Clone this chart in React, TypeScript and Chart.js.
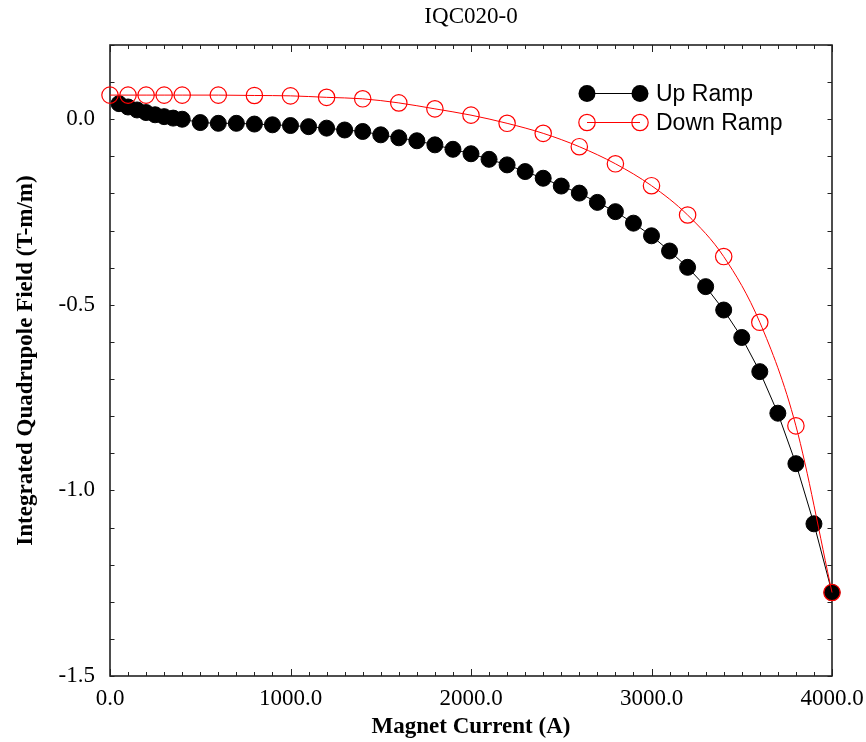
import { useEffect, useRef } from "react";
import { Chart, registerables } from "chart.js";

Chart.register(...registerables);

const chartTitle = "IQC020-0";
const xAxisTitle = "Magnet Current (A)";
const yAxisTitle = "Integrated Quadrupole Field (T-m/m)";
const xTickValues = [0, 1000, 2000, 3000, 4000];
const yTickValues = [-1.5, -1.0, -0.5, 0.0];
const xMinorStep = 100;
const yMinorStep = 0.1;
const upRampLabel = "Up Ramp";
const downRampLabel = "Down Ramp";

const upCurrent = [
  50, 100, 150, 200, 250, 300, 350, 400, 500, 600, 700, 800, 900, 1000, 1100, 1200, 1300,
  1400, 1500, 1600, 1700, 1800, 1900, 2000, 2100, 2200, 2300, 2400, 2500, 2600, 2700, 2800,
  2900, 3000, 3100, 3200, 3300, 3400, 3500, 3600, 3700, 3800, 3900, 4000,
];
const upField = [
  0.042, 0.033, 0.025, 0.018, 0.012, 0.007, 0.003, 0.0, -0.009, -0.011, -0.011, -0.013,
  -0.015, -0.017, -0.02, -0.024, -0.029, -0.033, -0.042, -0.05, -0.058, -0.069, -0.081,
  -0.093, -0.108, -0.123, -0.141, -0.159, -0.18, -0.199, -0.224, -0.249, -0.28, -0.314,
  -0.355, -0.399, -0.451, -0.514, -0.588, -0.68, -0.792, -0.928, -1.09, -1.275,
];
const downCurrent = [
  0, 100, 200, 300, 400, 600, 800, 1000, 1200, 1400, 1600, 1800, 2000, 2200, 2400, 2600,
  2800, 3000, 3200, 3400, 3600, 3800, 4000,
];
const downField = [
  0.065, 0.065, 0.065, 0.065, 0.065, 0.065, 0.064, 0.063, 0.059, 0.055, 0.044, 0.028,
  0.011, -0.011, -0.038, -0.074, -0.12, -0.179, -0.258, -0.37, -0.547, -0.826, -1.275,
];

export default function App() {
  const ref = useRef<HTMLCanvasElement>(null);

  useEffect(() => {
    document.body.style.margin = "0";
    const canvas = ref.current!;

    const framePlugin = {
      id: "frame",
      beforeDatasetsDraw(chart: any) {
        const { ctx, chartArea: a, scales } = chart;
        const xs = scales.x;
        const ys = scales.y;
        ctx.save();
        ctx.strokeStyle = "#222";
        ctx.lineWidth = 1;
        ctx.beginPath();
        const x0 = xs.min;
        const x1 = xs.max;
        for (let v = x0; v <= x1 + 1e-6; v += xMinorStep) {
          const px = Math.round(xs.getPixelForValue(v)) + 0.5;
          const major = xTickValues.some((t) => Math.abs(t - v) < 1e-6);
          const len = major ? 7 : 4;
          ctx.moveTo(px, a.bottom);
          ctx.lineTo(px, a.bottom - len);
          ctx.moveTo(px, a.top);
          ctx.lineTo(px, a.top + len);
        }
        const n = Math.round((ys.max - ys.min) / yMinorStep);
        for (let i = 0; i <= n; i++) {
          const v = ys.min + i * yMinorStep;
          const py = Math.round(ys.getPixelForValue(v)) + 0.5;
          const len = 4.5;
          ctx.moveTo(a.left, py);
          ctx.lineTo(a.left + len, py);
          ctx.moveTo(a.right, py);
          ctx.lineTo(a.right - len, py);
        }
        ctx.stroke();
        ctx.lineWidth = 1.6;
        ctx.strokeRect(a.left, a.top, a.right - a.left, a.bottom - a.top);
        ctx.restore();
      },
      afterDraw(chart: any) {
        const { ctx, chartArea: a } = chart;
        ctx.save();
        // title
        ctx.fillStyle = "#000";
        ctx.font = "23px 'Liberation Serif', serif";
        ctx.textAlign = "center";
        ctx.textBaseline = "middle";
        ctx.fillText(chartTitle, (a.left + a.right) / 2, 17);
        // legend
        const rows = [
          { label: upRampLabel, color: "#000", fill: true, y: 93.5 },
          { label: downRampLabel, color: "#ff0000", fill: false, y: 122.5 },
        ];
        const lx1 = 587;
        const lx2 = 640;
        ctx.font = "23px 'Liberation Sans', Arial, sans-serif";
        ctx.textAlign = "left";
        for (const r of rows) {
          ctx.strokeStyle = r.color;
          ctx.lineWidth = 1;
          ctx.beginPath();
          ctx.moveTo(lx1, r.y);
          ctx.lineTo(lx2, r.y);
          ctx.stroke();
          for (const cx of [lx1, lx2]) {
            ctx.beginPath();
            if (r.fill) {
              ctx.arc(cx, r.y, 8.5, 0, Math.PI * 2);
              ctx.fillStyle = r.color;
              ctx.fill();
            } else {
              ctx.arc(cx, r.y, 8.2, 0, Math.PI * 2);
              ctx.lineWidth = 1.2;
              ctx.stroke();
            }
          }
          ctx.fillStyle = "#000";
          ctx.fillText(r.label, 656, r.y + 1);
        }
        ctx.restore();
      },
    };

    const chart = new Chart(canvas, {
      type: "scatter",
      data: {
        datasets: [
          {
            label: downRampLabel,
            data: downCurrent.map((x, i) => ({ x, y: downField[i] })),
            showLine: true,
            borderColor: "#ff0000",
            borderWidth: 1,
            cubicInterpolationMode: "monotone",
            pointRadius: 8.2,
            pointBorderWidth: 1.2,
            pointBorderColor: "#ff0000",
            pointBackgroundColor: "rgba(0,0,0,0)",
            clip: false,
            order: 0,
          } as any,
          {
            label: upRampLabel,
            data: upCurrent.map((x, i) => ({ x, y: upField[i] })),
            showLine: true,
            borderColor: "#000",
            borderWidth: 1,
            pointRadius: 8,
            pointBorderWidth: 1,
            pointBorderColor: "#000",
            pointBackgroundColor: "#000",
            clip: false,
            order: 1,
          } as any,
        ],
      },
      options: {
        animation: false,
        responsive: false,
        events: [],
        layout: { padding: { top: 45, right: 34, left: 0, bottom: 0 } },
        plugins: {
          legend: { display: false },
          tooltip: { enabled: false },
          title: { display: false },
        },
        scales: {
          x: {
            type: "linear",
            min: 0,
            max: 4000,
            grid: { display: false, drawTicks: false },
            border: { display: false },
            afterFit: (s: any) => {
              s.height = 66;
              s.paddingLeft = 0;
              s.paddingRight = 0;
            },
            afterBuildTicks: (s: any) => {
              s.ticks = xTickValues.map((v) => ({ value: v }));
            },
            ticks: {
              color: "#000",
              padding: 9,
              maxRotation: 0,
              autoSkip: false,
              font: { family: "'Liberation Serif', serif", size: 23 },
              callback: (v: any) => Number(v).toFixed(1),
            },
            title: {
              display: true,
              text: xAxisTitle,
              color: "#000",
              font: { family: "'Liberation Serif', serif", size: 23, weight: "bold" },
              padding: { top: 0, bottom: 1 },
            },
          },
          y: {
            type: "linear",
            min: -1.5,
            max: 0.2,
            grid: { display: false, drawTicks: false },
            border: { display: false },
            afterFit: (s: any) => {
              s.width = 110;
              s.paddingTop = 0;
              s.paddingBottom = 0;
            },
            afterBuildTicks: (s: any) => {
              s.ticks = yTickValues.map((v) => ({ value: v }));
            },
            ticks: {
              color: "#000",
              padding: 15,
              autoSkip: false,
              font: { family: "'Liberation Serif', serif", size: 23 },
              callback: (v: any) => Number(v).toFixed(1),
            },
            title: {
              display: true,
              text: yAxisTitle,
              color: "#000",
              font: { family: "'Liberation Serif', serif", size: 23, weight: "bold" },
              padding: { top: 12, bottom: 0 },
            },
          },
        },
      },
      plugins: [framePlugin],
    });

    return () => chart.destroy();
  }, []);

  return <canvas ref={ref} width={866} height={742} style={{ display: "block" }} />;
}
